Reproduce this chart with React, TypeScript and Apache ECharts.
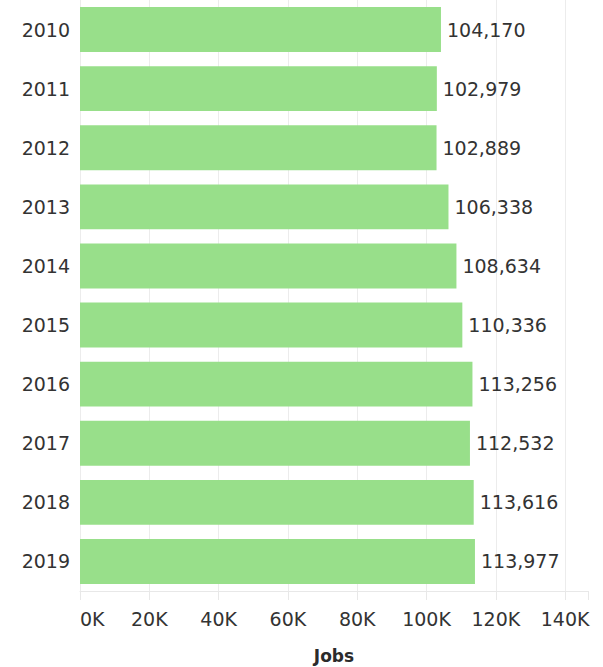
import React, { useEffect, useRef } from "react";
import * as echarts from "echarts";

const years = ["2010", "2011", "2012", "2013", "2014", "2015", "2016", "2017", "2018", "2019"];
const jobs = [104170, 102979, 102889, 106338, 108634, 110336, 113256, 112532, 113616, 113977];
const xTicks = [0, 20000, 40000, 60000, 80000, 100000, 120000, 140000];

const FONT = "DejaVu Sans";

export default function App() {
  const ref = useRef<HTMLDivElement>(null);
  useEffect(() => {
    if (!ref.current) return;
    const chart = echarts.init(ref.current, null, { renderer: "svg" });
    chart.setOption({
      animation: false,
      textStyle: { fontFamily: FONT },
      grid: { left: 80, right: 15, top: 0, bottom: 76, containLabel: false, outerBoundsMode: "none" },
      xAxis: {
        type: "value",
        min: 0,
        max: 146600,
        interval: 20000,
        name: "Jobs",
        nameLocation: "middle",
        nameGap: 56,
        nameTextStyle: { fontFamily: FONT, fontSize: 17, fontWeight: "bold", color: "#2b2b2b" },
        axisLine: { show: true, lineStyle: { color: "#e8e8e8", width: 1 } },
        axisTick: { show: true, length: 9, lineStyle: { color: "#e8e8e8" } },
        splitLine: { show: true, showMaxLine: false, lineStyle: { color: "#ececec", width: 1 } },
        axisLabel: {
          fontFamily: FONT,
          fontSize: 19,
          color: "#333",
          margin: 18,
          alignMinLabel: "left",
          formatter: (v: number) => (xTicks.includes(v) ? v / 1000 + "K" : ""),
        },
      },
      yAxis: {
        type: "category",
        data: years,
        inverse: true,
        axisLine: { show: false },
        axisTick: { show: false },
        axisLabel: { fontFamily: FONT, fontSize: 19, color: "#333", margin: 10 },
      },
      series: [
        {
          type: "bar",
          data: jobs,
          barCategoryGap: "24%",
          itemStyle: { color: "#98df8a" },
          label: {
            show: true,
            position: "right",
            distance: 6,
            fontFamily: FONT,
            fontSize: 19,
            color: "#333",
            formatter: (p: any) => Number(p.value).toLocaleString("en-US"),
          },
        },
      ],
    });
    return () => chart.dispose();
  }, []);
  return (
    <div
      ref={ref}
      style={{ position: "absolute", left: 0, top: 0, width: 603, height: 667 }}
    />
  );
}
